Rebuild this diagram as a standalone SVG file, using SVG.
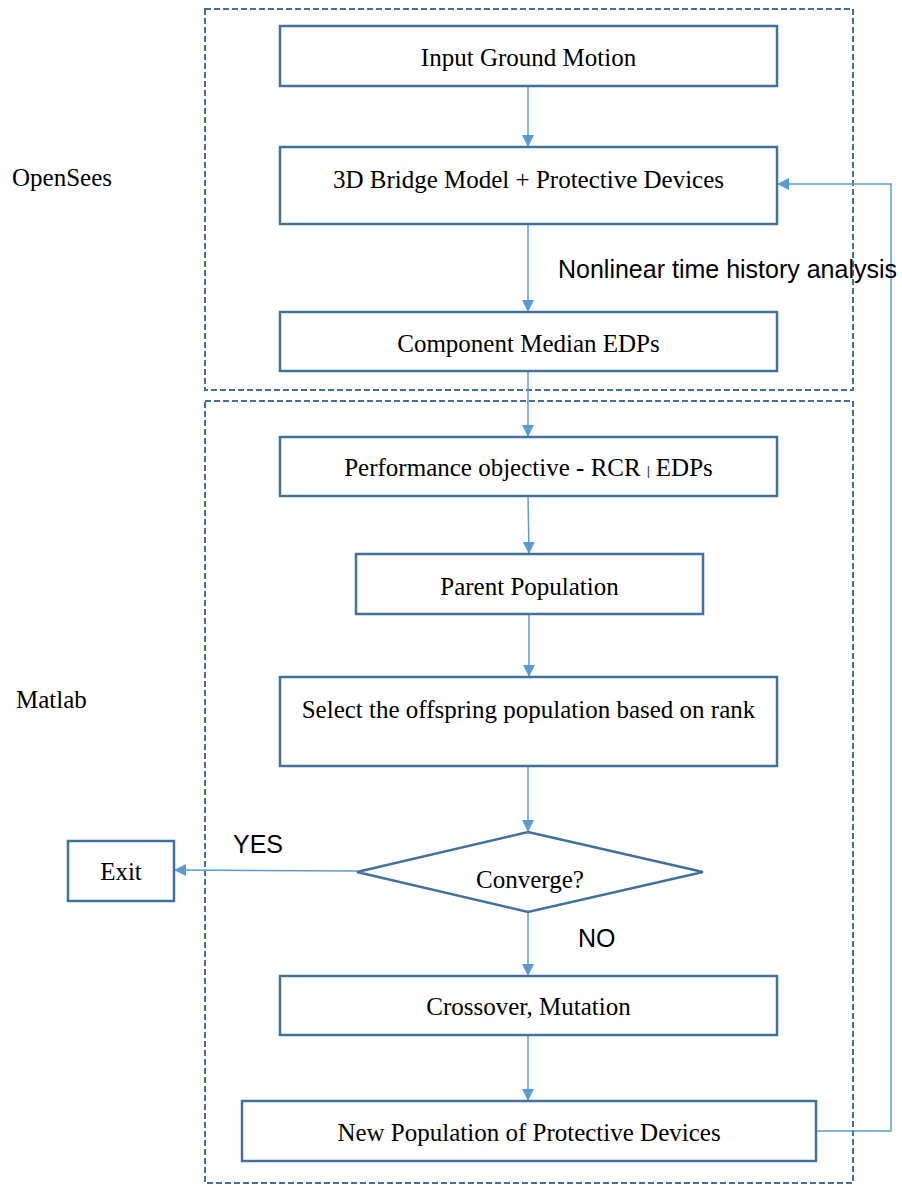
<svg xmlns="http://www.w3.org/2000/svg" width="902" height="1185" viewBox="0 0 902 1185">
<style>
.box{fill:#fff;stroke:#41719C;stroke-width:2.5}
.zone{fill:none;stroke:#41719C;stroke-width:2;stroke-dasharray:6 3}
.t{font-family:"Liberation Serif","Times New Roman",serif;font-size:25px;fill:#000}
.a{font-family:"Liberation Sans",Arial,sans-serif;font-size:25px;fill:#000}
.c{fill:none;stroke:#5B9BD5;stroke-width:1.5}
</style>
<defs>
<marker id="ah" markerWidth="12" markerHeight="12" viewBox="0 0 12 12" refX="11" refY="6" orient="auto" markerUnits="userSpaceOnUse">
<path d="M0,0 L12,6 L0,12 Z" fill="#5B9BD5"/>
</marker>
</defs>
<rect class="zone" x="205" y="9" width="648" height="381"/>
<rect class="zone" x="205" y="401" width="648" height="782"/>
<text class="t" x="12" y="186">OpenSees</text>
<text class="t" x="16" y="708">Matlab</text>
<g id="connectors">
<path class="c" d="M528,86 V146" marker-end="url(#ah)"/>
<path class="c" d="M528,224 V311" marker-end="url(#ah)"/>
<path class="c" d="M528,371 V436" marker-end="url(#ah)"/>
<path class="c" d="M528,496 L529,553" marker-end="url(#ah)"/>
<path class="c" d="M529,614 V676" marker-end="url(#ah)"/>
<path class="c" d="M528,766 V831" marker-end="url(#ah)"/>
<path class="c" d="M357,871 L175,870" marker-end="url(#ah)"/>
<path class="c" d="M528,912 V975" marker-end="url(#ah)"/>
<path class="c" d="M528,1035 V1100" marker-end="url(#ah)"/>
<path class="c" d="M816,1131 H891 V184 H778" marker-end="url(#ah)"/>
<text class="a" x="558" y="278">Nonlinear time history analysis</text>
<text class="a" x="233" y="853">YES</text>
<text class="a" x="578" y="947">NO</text>
</g>
<g id="n1"><rect class="box" x="280" y="26" width="497" height="60"/><text class="t" x="528.5" y="66" text-anchor="middle">Input Ground Motion</text></g>
<g id="n2"><rect class="box" x="280" y="147" width="497" height="77"/><text class="t" x="528.5" y="188" text-anchor="middle">3D Bridge Model + Protective Devices</text></g>
<g id="n3"><rect class="box" x="280" y="312" width="497" height="59"/><text class="t" x="528.5" y="352" text-anchor="middle">Component Median EDPs</text></g>
<g id="n4"><rect class="box" x="280" y="437" width="497" height="59"/><text class="t" x="528.5" y="476" text-anchor="middle">Performance objective - RCR  <tspan font-size="12" font-weight="bold" dy="-1">|</tspan><tspan dy="1"> EDPs</tspan></text></g>
<g id="n5"><rect class="box" x="356" y="554" width="347" height="60"/><text class="t" x="529.5" y="595" text-anchor="middle">Parent Population</text></g>
<g id="n6"><rect class="box" x="280" y="677" width="497" height="89"/><text class="t" x="528.5" y="718" text-anchor="middle">Select the offspring population based on rank</text></g>
<g id="n7"><polygon class="box" points="528,832 703,872 528,912 357,872"/><text class="t" x="530" y="888" text-anchor="middle">Converge?</text></g>
<g id="n8"><rect class="box" x="68" y="841" width="106" height="60"/><text class="t" x="121" y="880" text-anchor="middle">Exit</text></g>
<g id="n9"><rect class="box" x="280" y="976" width="497" height="59"/><text class="t" x="528.5" y="1015" text-anchor="middle">Crossover, Mutation</text></g>
<g id="n10"><rect class="box" x="242" y="1101" width="574" height="60"/><text class="t" x="529" y="1141" text-anchor="middle">New Population of Protective Devices</text></g>
</svg>
